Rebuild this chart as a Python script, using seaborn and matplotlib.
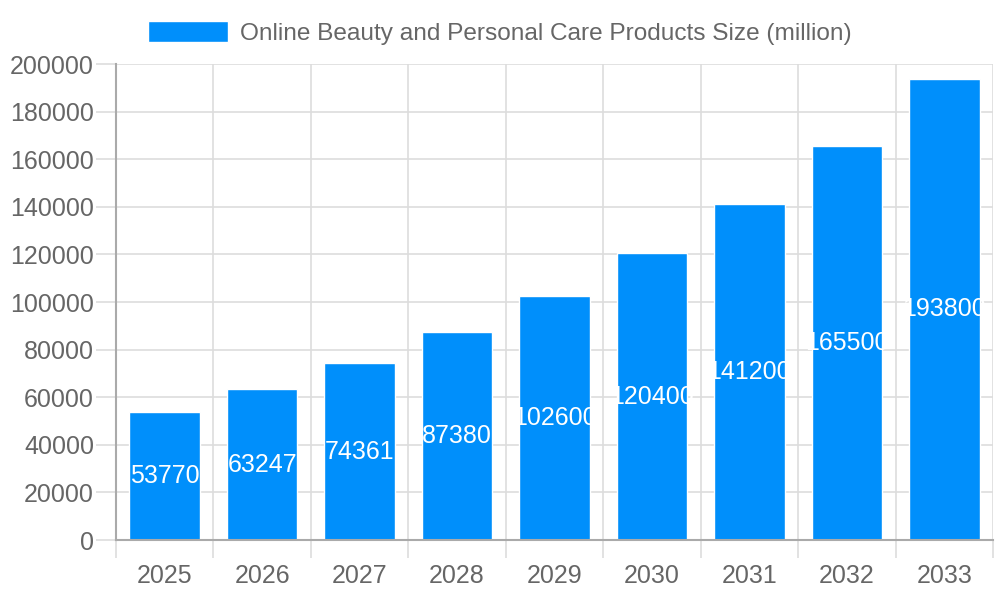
import matplotlib
matplotlib.use("Agg")
import matplotlib.pyplot as plt
import numpy as np
import seaborn as sns

years = ["2025", "2026", "2027", "2028", "2029", "2030", "2031", "2032", "2033"]
sizes = [53770, 63247, 74361, 87380, 102600, 120400, 141200, 165500, 193800]
series_name = "Online Beauty and Personal Care Products Size (million)"

BAR = "#008FFB"
TEXT = "#666666"
GRID = "#dddddd"
AXIS = "#aaaaaa"
FS = 18

sns.set_theme(style="white")
plt.rcParams["font.family"] = ["Liberation Sans", "DejaVu Sans"]

fig = plt.figure(figsize=(10, 6), dpi=100)
ax = fig.add_axes([0.116, 0.10, 0.877, 0.7933])

sns.barplot(x=years, y=sizes, color=BAR, saturation=1, width=0.725,
            label=series_name, legend=False, ax=ax, zorder=2)

ax.set_xlim(-0.5, len(years) - 0.5)
ax.set_ylim(0, 200000)
ax.set_yticks(np.arange(0, 200001, 20000))

# category borders for vertical grid and outward ticks (lengths in pt)
ax.set_xticks(np.arange(-0.5, len(years)), minor=True)
ax.tick_params(axis="x", which="major", bottom=True, length=0, pad=17,
               labelsize=FS, labelcolor=TEXT)
ax.tick_params(axis="x", which="minor", bottom=True, length=13, width=1.2,
               color=GRID, direction="out")
ax.tick_params(axis="y", left=True, length=14.4, width=1.2, color=GRID,
               pad=1.5, labelsize=FS, labelcolor=TEXT)
ax.grid(True, axis="y", which="major", color=GRID, linewidth=1.2, zorder=0)
ax.grid(True, axis="x", which="minor", color=GRID, linewidth=1.2, zorder=0)
ax.grid(False, axis="x", which="major")
ax.set_axisbelow(True)

# the first border tick sits under the axis line, so it takes its colour
first_tick = ax.xaxis.get_minor_ticks()[0]
first_tick.tick1line.set_color(AXIS)

for side in ["top", "right"]:
    ax.spines[side].set_visible(False)
for side in ["left", "bottom"]:
    ax.spines[side].set_color(AXIS)
    ax.spines[side].set_linewidth(1.5)

# value labels in the middle of each bar, clipped to the bar
for bar, val in zip(ax.patches, sizes):
    cx = bar.get_x() + bar.get_width() / 2
    ax.text(cx, val / 2, str(val), ha="center", va="center", color="white",
            fontsize=FS, clip_on=True, clip_path=bar, zorder=3)

handles, labels = ax.get_legend_handles_labels()
fig.legend(handles[:1], labels[:1], loc="center", bbox_to_anchor=(0.5, 0.945),
           frameon=False, fontsize=17.6, labelcolor=TEXT, handlelength=3.28,
           handleheight=0.98, handletextpad=0.49, borderpad=0)

fig.savefig("out.png", dpi=100)
